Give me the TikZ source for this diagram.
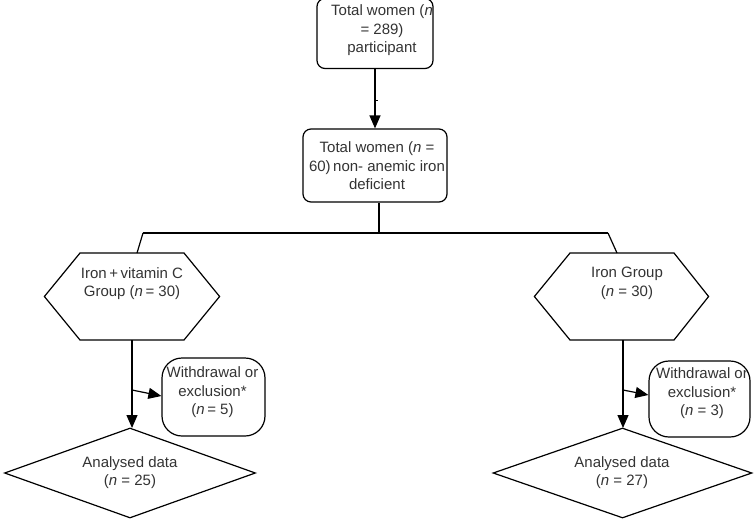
\documentclass[tikz,border=0pt]{standalone}
\usepackage{fontspec}
\setmainfont{Liberation Sans}
\usetikzlibrary{arrows.meta,shapes.geometric}
\begin{document}
\begin{tikzpicture}[x=1pt,y=-1pt,
  line width=1.2pt,
  every node/.style={text=black!80, font=\fontsize{15}{18.5}\selectfont},
  txt/.style={align=center, inner sep=0pt},
  rbox/.style={draw, rounded corners=8pt, line width=1.2pt, inner sep=0pt},
  wbox/.style={draw, rounded corners=20pt, line width=1.2pt, inner sep=0pt},
  dia/.style={draw, diamond, inner sep=0pt, line width=1.2pt, align=center},
  arr/.style={-{Triangle[width=11pt,length=13pt]}},
  ]
\useasboundingbox (0,0) rectangle (755,522);
% top box
\node[rbox, minimum width=116pt, minimum height=70pt] (top) at (375,33.5) {};
\node[txt] (toptxt) at (382,30.5) {Total women (\textit{n}\\= 289)\\participant};
% second box
\node[rbox, minimum width=144pt, minimum height=73pt] (sec) at (375,165.5) {};
\node[txt] (sectxt) at (377,166) {Total women (\textit{n} =\\60)\,non- anemic iron\\deficient};
\draw[arr] (top.south) -- (sec.north);
\coordinate (tick) at (378,100);
\draw[line width=0.9pt] (375,100) -- (tick);
% split line
\coordinate (sp) at (379,233);
\coordinate (spL) at (143,233);
\coordinate (spR) at (608,233);
\draw (sec.south -| sp) -- (sp);
\draw (spL) -- (spR);
% hexagons
\node[inner sep=0pt, minimum width=174pt, minimum height=87pt] (hexL) at (132,296.5) {};
\node[inner sep=0pt, minimum width=173pt, minimum height=87pt] (hexR) at (621.5,296.5) {};
\draw (80,253) -- (184,253) -- (hexL.east) -- (184,340) -- (80,340) -- (hexL.west) -- cycle;
\draw (570,253) -- (674,253) -- (hexR.east) -- (674,340) -- (570,340) -- (hexR.west) -- cycle;
\node[txt] (hexLt) at (132,283.5) {Iron\,+\,vitamin C\\Group (\textit{n}\,= 30)};
\node[txt] (hexRt) at (627,283.5) {Iron Group\\(\textit{n} = 30)};
\coordinate (hLtop) at (137,253);
\coordinate (hRtop) at (617,253);
\draw (spL) -- (hLtop);
\draw (spR) -- (hRtop);
% withdrawal boxes
\node[wbox, minimum width=103pt, minimum height=78pt] (wL) at (213.5,397) {};
\node[txt] (wLt) at (212.5,392.5) {Withdrawal or\\exclusion*\\(\textit{n}\,= 5)};
\node[wbox, minimum width=101pt, minimum height=76pt] (wR) at (699.5,399) {};
\node[txt] (wRt) at (702,393.5) {Withdrawal or\\exclusion*\\(\textit{n} = 3)};
% diamonds
\node[dia, minimum width=251pt, minimum height=90pt] (dL) at (130,473) {};
\node[txt] (dLt) at (130,472.5) {Analysed data\\(\textit{n} = 25)};
\node[dia, minimum width=259pt, minimum height=90pt] (dR) at (622.5,473) {};
\node[txt] (dRt) at (622,472.5) {Analysed data\\(\textit{n} = 27)};
% left flow
\coordinate (hLbot) at (132,340);
\coordinate (bL) at (132,390);
\draw[arr] (hLbot) -- (132,428);
\draw[arr] (bL) -- (wL.west |- 0,396);
% right flow
\coordinate (hRbot) at (623,340);
\coordinate (bR) at (623,390);
\draw[arr] (hRbot) -- (623,428);
\draw[arr] (bR) -- (wR.west |- 0,395);
\end{tikzpicture}
\end{document}
